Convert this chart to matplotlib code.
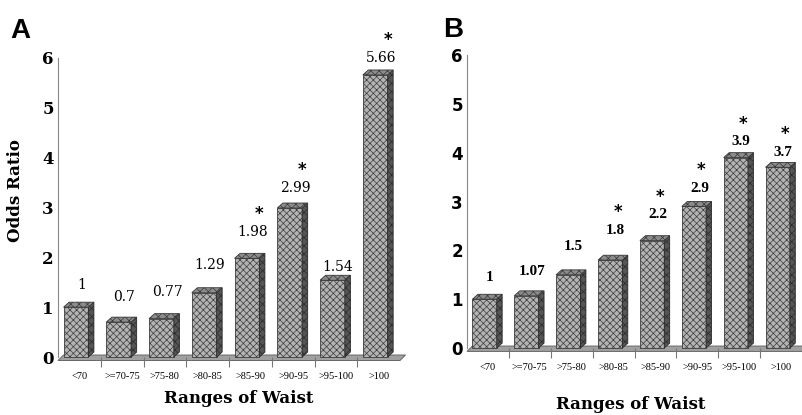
import matplotlib.pyplot as plt
import numpy as np

# waist ranges (cm) and odds ratios
ranges = ['<70', '>=70-75', '>75-80', '>80-85', '>85-90', '>90-95', '>95-100', '>100']
odds_a = [1, 0.7, 0.77, 1.29, 1.98, 2.99, 1.54, 5.66]
signif_a = [0, 0, 0, 0, 1, 1, 0, 1]
odds_b = [1, 1.07, 1.5, 1.8, 2.2, 2.9, 3.9, 3.7]
signif_b = [0, 0, 0, 1, 1, 1, 1, 1]

# label offsets above bar tops, in pixels (they wander a bit in the original)
lab_off_a = [22, 25, 27, 28, 26, 20, 13, 17]
lab_off_b = [22, 24, 28, 30, 26, 18, 16, 15]

plt.rcParams['hatch.linewidth'] = 0.5

W = 0.58        # front face width
SHIFT = -0.08   # bars sit a little left in their slot
DX, DY = 0.13, 0.10   # fake 3d depth


def draw_panel(ax, vals, signif, offs, tickfont, valfont, starx):
    x = np.arange(len(vals))
    # floor slab
    ax.fill([-0.5, 7.5, 7.5 + DX, -0.5 + DX], [-0.07, -0.07, 0.04, 0.04],
            facecolor='#a0a0a0', edgecolor='#666666', lw=0.7, zorder=1, clip_on=False)
    for xi, v in zip(x, vals):
        xc = xi + SHIFT
        l, r = xc - W / 2, xc + W / 2
        ax.bar(xc, v, W, color='#b3b3b3', edgecolor='#3c3c3c', hatch='xxxxx',
               lw=0.6, zorder=2, clip_on=False)
        ax.fill([r, r + DX, r + DX, r], [0, DY, v + DY, v],
                facecolor='#555555', edgecolor='#2a2a2a', hatch='xxxx',
                lw=0.6, zorder=2, clip_on=False)
        ax.fill([l, l + DX, r + DX, r], [v, v + DY, v + DY, v],
                facecolor='#8c8c8c', edgecolor='#363636', hatch='xxxx',
                lw=0.6, zorder=2, clip_on=False)
    for xi, v, s, o in zip(x, vals, signif, offs):
        ax.annotate('%g' % v, (xi + 0.05, v), xytext=(0, o),
                    textcoords='offset pixels', ha='center', va='center',
                    zorder=3, annotation_clip=False, **valfont)
        if s:
            ax.annotate('*', (xi + 0.05, v), xytext=(starx, o + 9),
                        textcoords='offset pixels', ha='center', va='bottom',
                        fontsize=12, fontweight='bold', family='DejaVu Sans',
                        zorder=3, annotation_clip=False)

    ax.set_xlim(-0.5, 7.5)
    ax.set_ylim(0, 6)
    ax.set_yticks(range(7))
    ax.set_yticklabels([str(i) for i in range(7)], **tickfont)
    ax.tick_params(axis='y', length=0, pad=3)
    ax.set_xticks(x)
    ax.set_xticklabels(ranges, family='Liberation Serif', fontsize=7.5)
    ax.set_xticks(np.arange(0.5, 7.5, 1), minor=True)
    ax.tick_params(axis='x', which='major', length=0, pad=11)
    ax.tick_params(axis='x', which='minor', length=7, width=0.8, color='#777777')
    for sp in ['top', 'right', 'bottom']:
        ax.spines[sp].set_visible(False)
    ax.spines['left'].set_color('#888888')
    ax.spines['left'].set_linewidth(0.8)


fig = plt.figure(figsize=(8.02, 4.15), dpi=100)
ax_a = fig.add_axes([58 / 802, 1 - 357 / 415, 342 / 802, 299 / 415])
ax_b = fig.add_axes([467 / 802, 1 - 348 / 415, 335 / 802, 293 / 415])

draw_panel(ax_a, odds_a, signif_a, lab_off_a,
           dict(family='DejaVu Serif', fontweight='bold', fontsize=12),
           dict(family='DejaVu Serif', fontsize=10), 7)
draw_panel(ax_b, odds_b, signif_b, lab_off_b,
           dict(family='DejaVu Sans', fontweight='bold', fontsize=12),
           dict(family='Liberation Serif', fontweight='bold', fontsize=11), 2)

ax_a.set_ylabel('Odds Ratio', family='DejaVu Serif', fontweight='bold', fontsize=12)
ax_a.yaxis.set_label_coords(-0.099, 0.555)
ax_a.set_xlabel('Ranges of Waist', family='DejaVu Serif', fontweight='bold', fontsize=12)
ax_a.xaxis.set_label_coords(0.529, -0.11)
ax_b.set_xlabel('Ranges of Waist', family='DejaVu Serif', fontweight='bold', fontsize=12)
ax_b.xaxis.set_label_coords(0.49, -0.165)

fig.text(10 / 802, 1 - 38 / 415, 'A', family='Liberation Sans', fontweight='bold', fontsize=20)
fig.text(443 / 802, 1 - 37 / 415, 'B', family='Liberation Sans', fontweight='bold', fontsize=20)

fig.savefig('out.png', dpi=100)
